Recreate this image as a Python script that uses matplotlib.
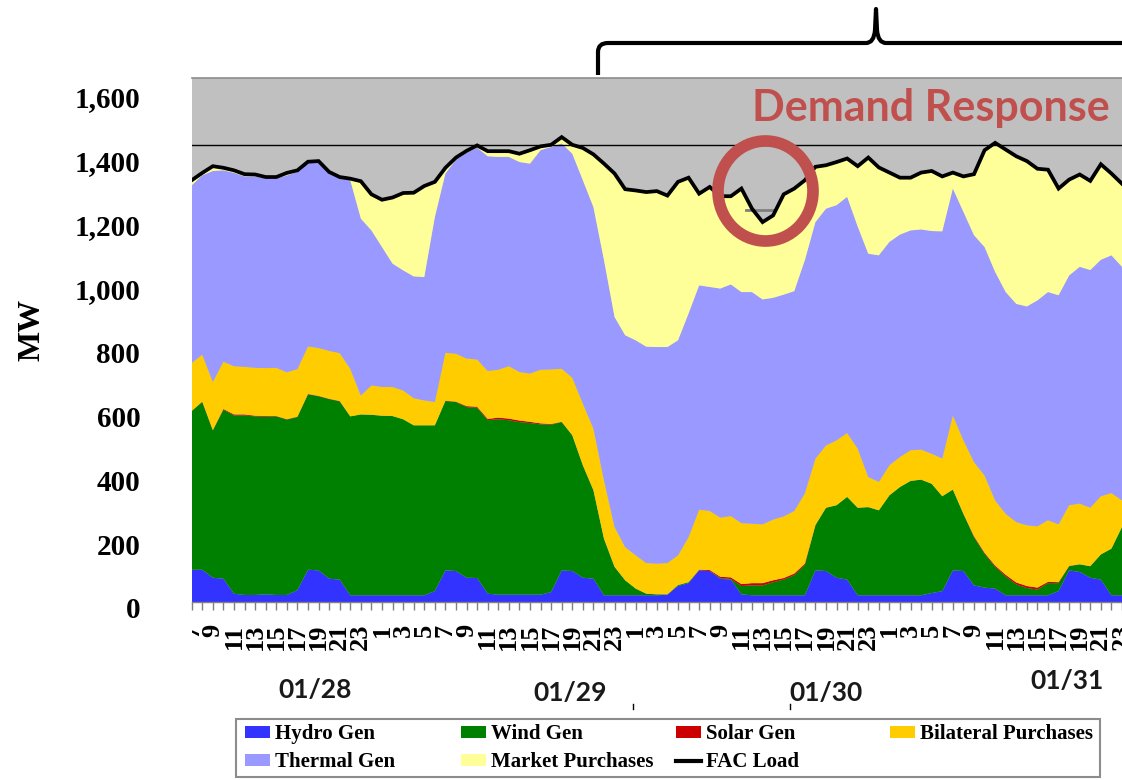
import matplotlib
matplotlib.use('Agg')
import matplotlib.pyplot as plt
from matplotlib.patches import Rectangle, Ellipse, PathPatch
from matplotlib.lines import Line2D
from matplotlib.path import Path
from matplotlib.transforms import (ScaledTranslation, blended_transform_factory,
                                   TransformedBbox, Bbox)

# ---------------- data (hourly, from hour 7 of 01/28 onward) ----------------
hours = list(range(7, 25)) + list(range(1, 25)) + list(range(1, 25)) + list(range(1, 24))
dates = ['01/28', '01/29', '01/30', '01/31']

hydro = [101, 101, 76, 73, 26, 22, 22, 24, 22, 22, 37, 101, 99, 73, 70, 21, 21, 21, 21, 21, 21, 21,
         21, 34, 99, 97, 76, 75, 26, 23, 23, 23, 23, 23, 31, 99, 97, 76, 73, 21, 21, 21, 21, 21,
         21, 23, 50, 59, 99, 97, 73, 70, 24, 21, 21, 21, 21, 21, 21, 99, 97, 76, 70, 21, 21, 21,
         21, 21, 21, 21, 28, 34, 99, 97, 52, 45, 42, 21, 21, 21, 21, 21, 34, 99, 94, 76, 70, 21, 21]

wind = [497, 525, 461, 529, 558, 562, 559, 556, 559, 549, 542, 549, 545, 562, 558, 560, 566, 565, 562, 561, 551, 532,
        532, 519, 530, 529, 534, 533, 543, 549, 546, 540, 537, 533, 524, 464, 425, 352, 277, 177, 89, 47, 21, 5,
        3, 1, 3, 3, 0, 0, 2, 2, 26, 31, 31, 41, 49, 63, 95, 141, 198, 227, 259, 274, 276, 266,
        313, 339, 358, 362, 342, 297, 253, 179, 151, 106, 68, 59, 34, 23, 18, 38, 25, 13, 24, 36, 79, 146, 214]

solar = [0, 1, 1, 2, 3, 3, 2, 2, 1, 1, 1, 1, 1, 1, 1, 0, 0, 0, 0, 0, 0, 0,
         0, 0, 1, 1, 3, 3, 4, 5, 5, 5, 4, 3, 2, 1, 0, 0, 0, 0, 0, 0, 0, 0,
         0, 0, 0, 0, 2, 3, 4, 5, 6, 7, 7, 6, 5, 5, 4, 1, 0, 0, 0, 0, 0, 0,
         0, 0, 0, 0, 0, 0, 0, 0, 3, 3, 4, 5, 6, 6, 6, 4, 3, 1, 0, 0, 0, 0, 0]

bilateral = [150, 147, 151, 148, 151, 149, 150, 150, 151, 147, 149, 149, 150, 150, 150, 149, 59, 92, 90, 91, 90, 85,
             78, 73, 150, 150, 149, 148, 150, 150, 164, 152, 151, 168, 171, 166, 180, 193, 193, 183, 125, 104, 104, 96,
             96, 98, 93, 141, 188, 185, 185, 192, 191, 186, 184, 190, 193, 196, 220, 208, 195, 203, 200, 185, 94, 89,
             94, 94, 96, 94, 94, 118, 232, 230, 232, 242, 204, 191, 189, 190, 192, 193, 181, 190, 190, 183, 182, 174, 83]

thermal = [556, 561, 660, 599, 605, 596, 599, 593, 592, 616, 617, 574, 579, 555, 549, 590, 554, 485, 438, 386, 376, 381,
           386, 579, 561, 607, 644, 663, 672, 666, 655, 657, 657, 687, 696, 705, 701, 699, 693, 689, 657, 663, 673, 677,
           678, 676, 673, 700, 702, 701, 717, 725, 723, 725, 704, 694, 694, 688, 730, 740, 741, 736, 739, 695, 699, 709,
           699, 696, 688, 689, 697, 711, 710, 715, 710, 715, 715, 694, 683, 685, 707, 714, 717, 719, 741, 744, 740, 744, 731]

market = [16, 8, 15, 8, 8, 7, 6, 5, 5, 8, 5, 4, 6, 5, 2, 5, 117, 113, 148, 207, 242, 262,
          285, 110, 18, 7, 6, 7, 16, 18, 18, 26, 42, 12, 7, 20, 28, 101, 165, 302, 449, 457, 469, 484,
          488, 474, 496, 425, 287, 313, 289, 276, 324, 261, 242, 258, 314, 321, 250, 173, 136, 135, 120, 189, 301, 275,
          217, 178, 165, 178, 188, 172, 50, 111, 191, 303, 404, 446, 462, 455, 412, 383, 334, 300, 289, 279, 299, 256, 260]

fac_load = [1320, 1343, 1364, 1359, 1351, 1339, 1338, 1330, 1330, 1343, 1351, 1378, 1380, 1346, 1330, 1325, 1317, 1276, 1259, 1266, 1280, 1281,
            1302, 1315, 1359, 1391, 1412, 1429, 1411, 1411, 1411, 1403, 1414, 1426, 1431, 1455, 1431, 1421, 1401, 1372, 1341, 1292, 1288, 1283,
            1286, 1272, 1315, 1328, 1278, 1299, 1270, 1270, 1294, 1231, 1189, 1210, 1276, 1294, 1320, 1362, 1367, 1377, 1388, 1364, 1391, 1360,
            1344, 1328, 1328, 1344, 1349, 1332, 1344, 1332, 1339, 1414, 1437, 1416, 1395, 1380, 1356, 1353, 1294, 1322, 1338, 1318, 1370, 1341, 1309]

series_names = ['Hydro Gen', 'Wind Gen', 'Solar Gen', 'Bilateral Purchases',
                'Thermal Gen', 'Market Purchases']
series_colors = ['#3333FF', '#008000', '#CC0000', '#FFCC00', '#9999FF', '#FFFF99']
ref_level = 1429          # horizontal reference line
dr_level = 1227           # load level without demand response
y_ticks = [0, 200, 400, 600, 800, 1000, 1200, 1400, 1600]
y_tick_labels = ['0', '200', '400', '600', '800', '1,000', '1,200', '1,400', '1,600']

# ---------------- figure ----------------
W, H = 1122, 780
fig = plt.figure(figsize=(W / 100, H / 100), dpi=100)
fig.patch.set_facecolor('white')

def fx(px):
    return px / W

def fy(py):
    return 1 - py / H

ax_l, ax_r, ax_t, ax_b = 191.7, 1122, 78, 602
ax = fig.add_axes([fx(ax_l), fy(ax_b), fx(ax_r - ax_l), (ax_b - ax_t) / H])
ax.set_facecolor('#C0C0C0')

x = list(range(len(hours)))
polys = ax.stackplot(x, hydro, wind, solar, bilateral, thermal, market,
                     colors=series_colors, labels=series_names,
                     linewidth=0, zorder=2)
ax.axhline(ref_level, color='black', lw=1.0, zorder=3)
ax.plot([52.4, 55.0], [dr_level, dr_level], color='#7F7F7F', lw=2, zorder=3)
load_line, = ax.plot(x, fac_load, color='black', lw=2.7, zorder=4,
                     solid_joinstyle='miter', label='FAC Load')

ax.set_xlim(0, 88)
ax.set_ylim(0, 1640)

for side in ['left', 'right']:
    ax.spines[side].set_visible(False)
ax.spines['top'].set_color('#8C8C8C')
ax.spines['top'].set_linewidth(1.2)
ax.spines['bottom'].set_color('#808080')
ax.spines['bottom'].set_linewidth(1.0)

serif = 'Liberation Serif'
ax.set_xticks(x, labels=[str(h) if h % 2 == 1 else '' for h in hours])
ax.tick_params(axis='x', length=6, width=1, color='#808080', pad=9.5)
for lab in ax.get_xticklabels():
    lab.set_rotation(90)
    lab.set_fontsize(19)
    lab.set_fontweight('bold')
    lab.set_family(serif)

ax.set_yticks(y_ticks, labels=y_tick_labels)
ax.tick_params(axis='y', length=0, pad=37)
for lab in ax.get_yticklabels():
    lab.set_fontsize(21)
    lab.set_fontweight('bold')
    lab.set_family(serif)

# clip x labels at the left edge of plot area, shift y labels slightly down
clipbox = TransformedBbox(Bbox([[0, 0], [1, 1]]),
                          blended_transform_factory(ax.transAxes, fig.transFigure))
for lab in ax.get_xticklabels():
    lab.set_clip_box(clipbox)
    lab.set_clip_on(True)
off = ScaledTranslation(0, -6 / 100, fig.dpi_scale_trans)
for lab in ax.get_yticklabels():
    lab.set_transform(lab.get_transform() + off)

ax.set_ylabel('MW', fontsize=23, fontweight='bold', family=serif)
ax.yaxis.set_label_coords((46 - ax_l) / (ax_r - ax_l), (ax_b - 330) / (ax_b - ax_t))

# ---------------- date labels ----------------
date_px = [(315, 690), (570, 693), (826, 693), (1067, 681)]
for d, (px, py) in zip(dates, date_px):
    fig.text(fx(px), fy(py), d, ha='center', va='center', fontsize=19,
             fontweight='bold', family='Lato', color='#1A1A1A')
for px in (633, 790):
    fig.add_artist(Line2D([fx(px), fx(px)], [fy(704), fy(709)], color='black', lw=1))

# ---------------- legend ----------------
fig.add_artist(Rectangle((fx(236), fy(777)), fx(864), 58 / H, transform=fig.transFigure,
                         facecolor='white', edgecolor='#8C8C8C', lw=1.5, zorder=5))
line_handle = Line2D([], [], color='black', lw=3)
columns = [([polys[0], polys[4]], ['Hydro Gen', 'Thermal Gen'], 245),
           ([polys[1], polys[5]], ['Wind Gen', 'Market Purchases'], 461),
           ([polys[2], line_handle], ['Solar Gen', 'FAC Load'], 676),
           ([polys[3]], ['Bilateral Purchases'], 890)]
for handles, labels, px in columns:
    leg = fig.legend(handles, labels, loc='upper left',
                     bbox_to_anchor=(fx(px), fy(724)), bbox_transform=fig.transFigure,
                     frameon=False, borderpad=0, borderaxespad=0,
                     handlelength=1.2, handleheight=0.5, handletextpad=0.25,
                     labelspacing=0.4,
                     prop={'family': serif, 'weight': 'bold', 'size': 15})
    leg.set_zorder(6)

# ---------------- annotations ----------------
dr_color = '#C0504D'
fig.text(fx(931), fy(121), 'Demand Response', ha='center', va='baseline',
         fontsize=31, fontweight='bold', family='Lato', color=dr_color, zorder=7)
fig.add_artist(Ellipse((fx(765.5), fy(191)), fx(95), 100 / H, transform=fig.transFigure,
                       fill=False, edgecolor=dr_color, lw=8.4, zorder=7))

brace_pts = [(598, 75), (598, 52), (598, 43), (608, 43), (866, 43), (874, 43), (875, 30),
             (876, 9), (877, 30), (878, 43), (886, 43), (1130, 43)]
brace_codes = [Path.MOVETO, Path.LINETO, Path.CURVE3, Path.CURVE3, Path.LINETO,
               Path.CURVE3, Path.CURVE3, Path.LINETO, Path.LINETO, Path.CURVE3,
               Path.CURVE3, Path.LINETO]
brace = Path([(fx(a), fy(b)) for a, b in brace_pts], brace_codes)
fig.add_artist(PathPatch(brace, transform=fig.transFigure, fill=False,
                         edgecolor='black', lw=3, joinstyle='round', capstyle='butt'))

fig.savefig('out.png', dpi=100)
